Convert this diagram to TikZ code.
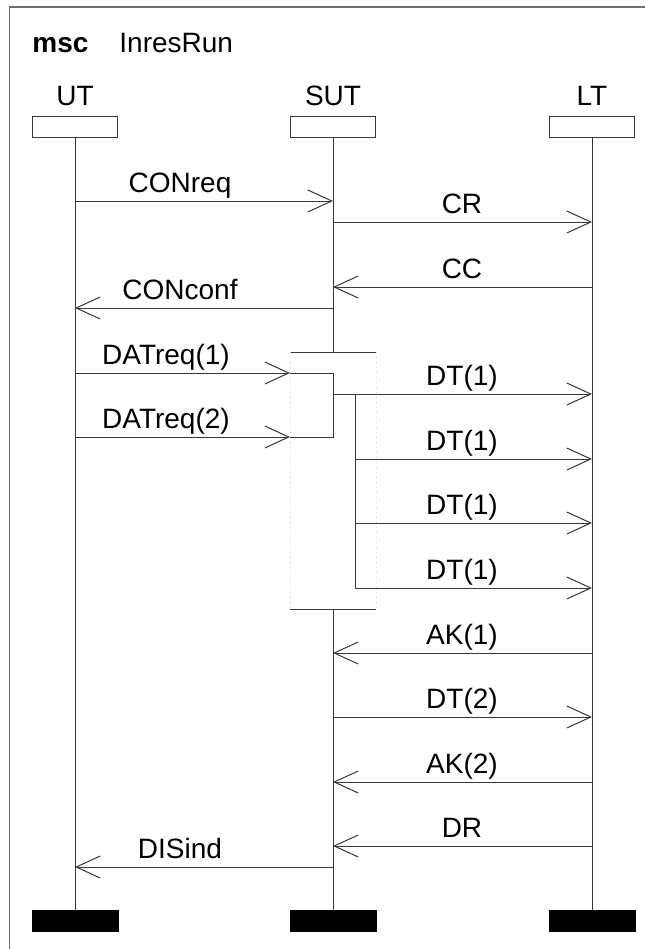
\documentclass[tikz,border=0pt]{standalone}
\usepackage{fontspec}
\setsansfont{Liberation Sans}
\usetikzlibrary{arrows.meta,calc,positioning}
\definecolor{framegray}{RGB}{110,110,110}
\definecolor{linegray}{RGB}{55,55,55}
\tikzset{
  every node/.style={font=\sffamily\fontsize{14}{17}\selectfont, inner sep=0pt},
  inst head/.style={draw=linegray, fill=white, line width=0.5pt,
    minimum width=42.5pt, minimum height=10.5pt},
  inst end/.style={fill=black, minimum width=43.5pt, minimum height=11pt},
  life/.style={draw=linegray, line width=0.5pt},
  msg/.style={life, -{Straight Barb[length=12pt, width=11pt]}},
  msg label/.style={anchor=base},
  co line/.style={draw=black!18, line width=0.5pt, dotted}
}

\begin{document}
\begin{tikzpicture}[x=0.5pt, y=-0.5pt, line join=miter]
  \useasboundingbox (0,0) rectangle (645,949);
  \draw[framegray, line width=0.75pt] (645,7) -| (9.5,949);

  \node[anchor=base west, font=\sffamily\bfseries\fontsize{14}{17}\selectfont]
    (kw) at (32,52) {msc};
  \node[anchor=base west] (name) at (119,52) {InresRun};

  % instances
  \foreach \n/\x/\t in {ut/75/UT, sut/333/SUT, lt/592/LT} {
    \node[inst head] (\n) at (\x,126.5) {};
    \node[anchor=base] (\n-label) at (\x,105) {\t};
    \node[inst end] (\n-end) at (\x,921) {};
  }
  \coordinate (co top) at (333,352);
  \coordinate (co bot) at (333,609);
  \draw[life] (ut) -- (ut-end);
  \draw[life] (lt) -- (lt-end);
  \draw[life] (sut) -- (co top);
  \draw[life] (co bot) -- (sut-end);

  % coregion
  \draw[life] ($(co top)+(-43,0)$) -- ($(co top)+(43,0)$);
  \draw[life] ($(co bot)+(-43,0)$) -- ($(co bot)+(43,0)$);
  \draw[co line] ($(co top)+(-43,0)$) -- ($(co bot)+(-43,0)$);
  \draw[co line] ($(co top)+(43,0)$) -- ($(co bot)+(43,0)$);

  % plain messages
  \foreach \a/\b/\y/\lx/\t in {ut/sut/201/180/CONreq, sut/lt/222/462/CR,
      lt/sut/287/462/CC, sut/ut/308/180/CONconf, lt/sut/653/462/AK(1),
      sut/lt/717/462/DT(2), lt/sut/782/462/AK(2), lt/sut/846/462/DR,
      sut/ut/867/180/DISind} {
    \coordinate (h) at (0,\y);
    \draw[msg] (\a |- h) -- (\b |- h);
    \node[msg label] (lbl-\y) at (\lx,\y-8.5) {\t};
  }

  % messages into and out of the coregion
  \coordinate (co in1) at (290,373);
  \coordinate (co in2) at (290,437);
  \coordinate (co out) at (333,394);
  \coordinate (co fork) at (355,394);
  \draw[msg] (ut |- co in1) -- (co in1);
  \draw[msg] (ut |- co in2) -- (co in2);
  \draw[life] (co in1) -| (sut |- co in2) -- (co in2);
  \node[msg label] (lbl-dat1) at (166,364.5) {DATreq(1)};
  \node[msg label] (lbl-dat2) at (166,428.5) {DATreq(2)};
  \draw[msg] (co out) -- (lt |- co out);
  \node[msg label] (lbl-394) at (462,385.5) {DT(1)};
  \draw[life] (co fork) -- (355,588);
  \foreach \y in {459,523,588} {
    \coordinate (h) at (355,\y);
    \draw[msg] (h) -- (lt |- h);
    \node[msg label] (lbl-\y) at (462,\y-8.5) {DT(1)};
  }
\end{tikzpicture}
\end{document}
